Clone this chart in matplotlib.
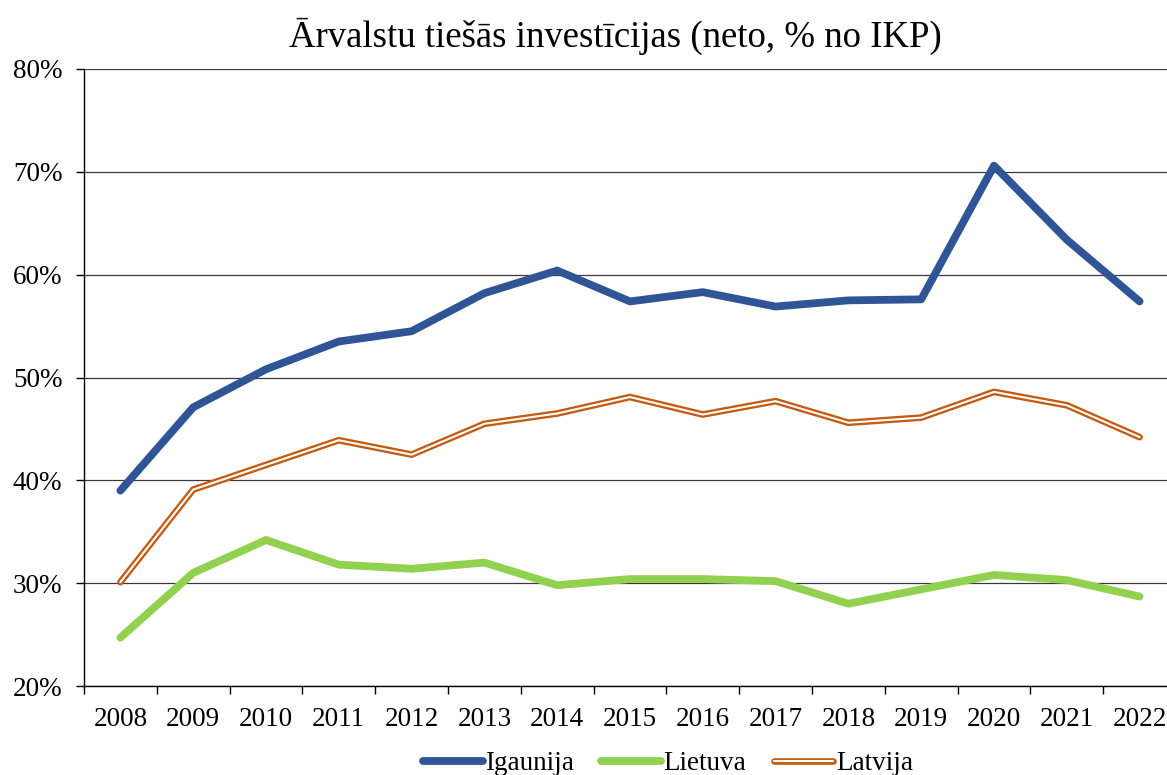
import matplotlib
matplotlib.use("Agg")
import matplotlib.pyplot as plt
import matplotlib.patheffects as pe
import numpy as np

years = ["2008", "2009", "2010", "2011", "2012", "2013", "2014", "2015",
         "2016", "2017", "2018", "2019", "2020", "2021", "2022"]
igaunija = [39.0, 47.1, 50.8, 53.5, 54.5, 58.2, 60.4, 57.4, 58.3, 56.9, 57.5, 57.6, 70.6, 63.4, 57.4]
lietuva = [24.7, 31.0, 34.2, 31.8, 31.4, 32.0, 29.8, 30.4, 30.4, 30.2, 28.0, 29.4, 30.8, 30.3, 28.7]
latvija = [30.1, 39.1, 41.5, 43.9, 42.5, 45.5, 46.5, 48.1, 46.4, 47.7, 45.6, 46.1, 48.6, 47.3, 44.2]
yticks = [20, 30, 40, 50, 60, 70, 80]
title = "Ārvalstu tiešās investīcijas (neto, % no IKP)"

plt.rcParams['font.family'] = ['Liberation Serif', 'DejaVu Serif']

fig = plt.figure(figsize=(11.67, 7.75), dpi=100)
ax = fig.add_axes([84/1167, 1-686/775, 1092/1167, (686-69)/775])

x = np.arange(len(years))
ax.plot(x, igaunija, color='#2F5597', lw=5.6, solid_capstyle='round',
        solid_joinstyle='round', label='Igaunija', zorder=4)
ax.plot(x, lietuva, color='#92D050', lw=5.6, solid_capstyle='round',
        solid_joinstyle='round', label='Lietuva', zorder=4)
ax.plot(x, latvija, color='white', lw=1.5, solid_capstyle='round',
        solid_joinstyle='round', label='Latvija', zorder=4,
        path_effects=[pe.Stroke(linewidth=4.8, foreground='#C55A11'), pe.Normal()])

ax.set_xlim(-0.5, len(years) - 0.5)
ax.set_ylim(20, 80)
ax.set_yticks(yticks)
ax.set_yticklabels([f"{v}%" for v in yticks])
ax.set_xticks(x)
ax.set_xticklabels(years)
ax.set_xticks(np.arange(-0.5, len(years)), minor=True)
ax.tick_params(axis='x', which='major', length=0, pad=15, labelsize=19.5)
ax.tick_params(axis='x', which='minor', length=5.5, width=1, color='black', direction='out')
ax.tick_params(axis='y', length=5.5, width=1, color='black', labelsize=19.5, pad=10)

ax.grid(axis='y', color='#3a3a3a', lw=0.9, zorder=1)
ax.set_axisbelow(True)
for s in ['top', 'right']:
    ax.spines[s].set_visible(False)
ax.spines['left'].set_color('black')
ax.spines['bottom'].set_color('black')
ax.spines['left'].set_linewidth(1)
ax.spines['bottom'].set_linewidth(1)

fig.text(615/1167, 1-36/775, title, ha='center', va='center', fontsize=26.5)

leg = fig.legend(loc='center', bbox_to_anchor=(668/1167, 1-764/775), ncol=3,
                 frameon=False, fontsize=19.5, handlelength=2.2, handletextpad=0.1,
                 columnspacing=1.0, borderaxespad=0)

fig.savefig("out.png", dpi=100)
